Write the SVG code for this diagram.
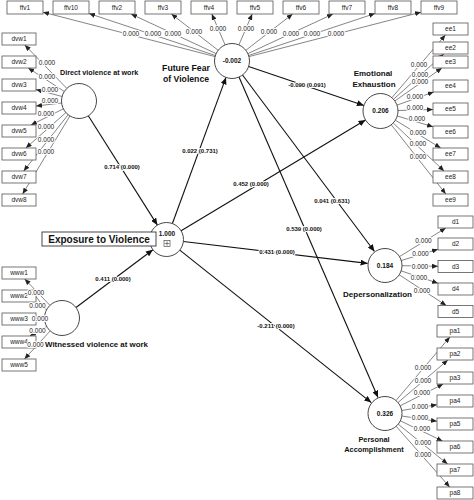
<svg xmlns="http://www.w3.org/2000/svg" width="474" height="500" viewBox="0 0 474 500">
<style>
text{font-family:"Liberation Sans",Arial,sans-serif}
.bg{fill:#fff}
.bx{fill:#fff;stroke:#555;stroke-width:0.8}
.cr{fill:#fff;stroke:#333;stroke-width:0.9}
.ld{stroke:#333;stroke-width:0.6;fill:none;marker-end:url(#ah)}
.pth{stroke:#111;stroke-width:1.1;fill:none;marker-end:url(#ahp)}
.bt{font-size:6.5px;text-anchor:middle;fill:#222}
.ll{font-size:6.5px;text-anchor:middle;fill:#222;paint-order:stroke;stroke:#fff;stroke-width:2.2px;stroke-linejoin:round}
.pl{font-size:6px;font-weight:bold;text-anchor:middle;fill:#111;paint-order:stroke;stroke:#fff;stroke-width:2.2px;stroke-linejoin:round}
.cv{font-size:6.5px;font-weight:bold;text-anchor:middle;fill:#111}
.cn{font-weight:bold;fill:#111}
</style>
<defs>
<marker id="ah" viewBox="0 0 6 5" refX="6" refY="2.5" markerWidth="6" markerHeight="5" markerUnits="userSpaceOnUse" orient="auto"><path d="M0,0L6,2.5L0,5z" fill="#222"/></marker>
<marker id="ahp" viewBox="0 0 7 6" refX="7" refY="3" markerWidth="7" markerHeight="6" markerUnits="userSpaceOnUse" orient="auto"><path d="M0,0L7,3L0,6z" fill="#111"/></marker>
</defs>
<rect class="bg" x="0" y="0" width="474" height="500"/>

<g id="connectors">
<!-- FFV loadings -->
<line class="ld" x1="215.1" y1="56.6" x2="43" y2="12.2"/>
<line class="ld" x1="215.4" y1="55.5" x2="89" y2="13.5"/>
<line class="ld" x1="216.1" y1="53.6" x2="131" y2="14"/>
<line class="ld" x1="218.2" y1="50.3" x2="171.4" y2="14"/>
<line class="ld" x1="225.1" y1="44.9" x2="211.8" y2="14"/>
<line class="ld" x1="238.9" y1="44.9" x2="252.2" y2="14"/>
<line class="ld" x1="245.8" y1="50.3" x2="292.6" y2="14"/>
<line class="ld" x1="247.9" y1="53.6" x2="333" y2="14"/>
<line class="ld" x1="248.6" y1="55.5" x2="375" y2="13.5"/>
<line class="ld" x1="248.9" y1="56.6" x2="421" y2="12.2"/>
<!-- Direct violence loadings -->
<line class="ld" x1="66.8" y1="88.4" x2="24.8" y2="45"/>
<line class="ld" x1="64.3" y1="91.5" x2="28.2" y2="68"/>
<line class="ld" x1="62.1" y1="96.5" x2="36" y2="89.5"/>
<line class="ld" x1="61.6" y1="103" x2="36" y2="106"/>
<line class="ld" x1="63.4" y1="108.8" x2="31" y2="125"/>
<line class="ld" x1="65.9" y1="112.6" x2="25.8" y2="148"/>
<line class="ld" x1="68.2" y1="114.7" x2="23.7" y2="171"/>
<line class="ld" x1="69.9" y1="116" x2="22.6" y2="194"/>
<!-- Witnessed violence loadings -->
<line class="ld" x1="49.9" y1="305.3" x2="24.7" y2="279"/>
<line class="ld" x1="46.4" y1="310" x2="30.7" y2="290"/>
<line class="ld" x1="44.5" y1="318.4" x2="36" y2="318.6"/>
<line class="ld" x1="46.7" y1="326.5" x2="29.8" y2="336"/>
<line class="ld" x1="50.2" y1="330.9" x2="24.5" y2="359"/>
<!-- EE loadings -->
<line class="ld" x1="391.9" y1="97.7" x2="445.4" y2="35"/>
<line class="ld" x1="393.5" y1="99.3" x2="443.8" y2="54"/>
<line class="ld" x1="394.8" y1="101" x2="441.9" y2="68"/>
<line class="ld" x1="397" y1="105.1" x2="433.7" y2="92"/>
<line class="ld" x1="398" y1="110.5" x2="433" y2="109.5"/>
<line class="ld" x1="397.3" y1="116" x2="433" y2="126.8"/>
<line class="ld" x1="395.4" y1="120.2" x2="440.7" y2="148"/>
<line class="ld" x1="393.2" y1="123" x2="444.1" y2="171"/>
<line class="ld" x1="391.2" y1="124.7" x2="445.8" y2="194"/>
<!-- DP loadings -->
<line class="ld" x1="399.5" y1="256.6" x2="445.8" y2="228"/>
<line class="ld" x1="401.3" y1="260.5" x2="438" y2="249.3"/>
<line class="ld" x1="402" y1="265.7" x2="438" y2="266.3"/>
<line class="ld" x1="401.1" y1="270.9" x2="438" y2="283.2"/>
<line class="ld" x1="399.2" y1="274.8" x2="446.3" y2="305.5"/>
<!-- PA loadings -->
<line class="ld" x1="396" y1="400.5" x2="449.9" y2="337"/>
<line class="ld" x1="398" y1="402.5" x2="447.9" y2="360"/>
<line class="ld" x1="400.2" y1="405.8" x2="443.2" y2="384"/>
<line class="ld" x1="401.7" y1="410.5" x2="437" y2="404.7"/>
<line class="ld" x1="401.8" y1="416" x2="437" y2="421.3"/>
<line class="ld" x1="400.3" y1="420.8" x2="442.5" y2="441"/>
<line class="ld" x1="398.2" y1="424.2" x2="447.6" y2="464"/>
<line class="ld" x1="396.2" y1="426.3" x2="449.7" y2="487"/>
<!-- structural paths -->
<line class="pth" x1="88.3" y1="115.8" x2="157.4" y2="225.1"/>
<line class="pth" x1="76" y1="307.5" x2="152.9" y2="249.7"/>
<line class="pth" x1="172.4" y1="223.5" x2="226" y2="77.4"/>
<line class="pth" x1="181.1" y1="230.7" x2="365.5" y2="120"/>
<line class="pth" x1="183.4" y1="241.5" x2="367.6" y2="263.4"/>
<line class="pth" x1="179.8" y1="250.1" x2="371.3" y2="402.6"/>
<line class="pth" x1="248.6" y1="66.6" x2="363.9" y2="105.4"/>
<line class="pth" x1="242.5" y1="75" x2="374.5" y2="251.5"/>
<line class="pth" x1="239" y1="77" x2="378" y2="397.5"/>
</g>

<g id="ffv1"><rect class="bx" x="7" y="1" width="36" height="13"/><text class="bt" x="25" y="10">ffv1</text></g>
<g id="ffv10"><rect class="bx" x="53" y="1" width="36" height="13"/><text class="bt" x="71" y="10">ffv10</text></g>
<g id="ffv2"><rect class="bx" x="99" y="1" width="36" height="13"/><text class="bt" x="117" y="10">ffv2</text></g>
<g id="ffv3"><rect class="bx" x="145" y="1" width="36" height="13"/><text class="bt" x="163" y="10">ffv3</text></g>
<g id="ffv4"><rect class="bx" x="191" y="1" width="36" height="13"/><text class="bt" x="209" y="10">ffv4</text></g>
<g id="ffv5"><rect class="bx" x="237" y="1" width="36" height="13"/><text class="bt" x="255" y="10">ffv5</text></g>
<g id="ffv6"><rect class="bx" x="283" y="1" width="36" height="13"/><text class="bt" x="301" y="10">ffv6</text></g>
<g id="ffv7"><rect class="bx" x="329" y="1" width="36" height="13"/><text class="bt" x="347" y="10">ffv7</text></g>
<g id="ffv8"><rect class="bx" x="375" y="1" width="36" height="13"/><text class="bt" x="393" y="10">ffv8</text></g>
<g id="ffv9"><rect class="bx" x="421" y="1" width="36" height="13"/><text class="bt" x="439" y="10">ffv9</text></g>

<g id="dvw1"><rect class="bx" x="2" y="33" width="34" height="12"/><text class="bt" x="19" y="41.3">dvw1</text></g>
<g id="dvw2"><rect class="bx" x="2" y="56" width="34" height="12"/><text class="bt" x="19" y="64.3">dvw2</text></g>
<g id="dvw3"><rect class="bx" x="2" y="79" width="34" height="12"/><text class="bt" x="19" y="87.3">dvw3</text></g>
<g id="dvw4"><rect class="bx" x="2" y="102" width="34" height="12"/><text class="bt" x="19" y="110.3">dvw4</text></g>
<g id="dvw5"><rect class="bx" x="2" y="125" width="34" height="12"/><text class="bt" x="19" y="133.3">dvw5</text></g>
<g id="dvw6"><rect class="bx" x="2" y="148" width="34" height="12"/><text class="bt" x="19" y="156.3">dvw6</text></g>
<g id="dvw7"><rect class="bx" x="2" y="171" width="34" height="12"/><text class="bt" x="19" y="179.3">dvw7</text></g>
<g id="dvw8"><rect class="bx" x="2" y="194" width="34" height="12"/><text class="bt" x="19" y="202.3">dvw8</text></g>

<g id="www1"><rect class="bx" x="2" y="267" width="34" height="12"/><text class="bt" x="19" y="275.3">www1</text></g>
<g id="www2"><rect class="bx" x="2" y="290" width="34" height="12"/><text class="bt" x="19" y="298.3">www2</text></g>
<g id="www3"><rect class="bx" x="2" y="313" width="34" height="12"/><text class="bt" x="19" y="321.3">www3</text></g>
<g id="www4"><rect class="bx" x="2" y="336" width="34" height="12"/><text class="bt" x="19" y="344.3">www4</text></g>
<g id="www5"><rect class="bx" x="2" y="359" width="34" height="12"/><text class="bt" x="19" y="367.3">www5</text></g>

<g id="ee1"><rect class="bx" x="433" y="23" width="35" height="12"/><text class="bt" x="450.5" y="31.3">ee1</text></g>
<g id="ee2"><rect class="bx" x="433" y="42" width="35" height="12"/><text class="bt" x="450.5" y="50.3">ee2</text></g>
<g id="ee3"><rect class="bx" x="433" y="56" width="35" height="12"/><text class="bt" x="450.5" y="64.3">ee3</text></g>
<g id="ee4"><rect class="bx" x="433" y="80" width="35" height="12"/><text class="bt" x="450.5" y="88.3">ee4</text></g>
<g id="ee5"><rect class="bx" x="433" y="103" width="35" height="12"/><text class="bt" x="450.5" y="111.3">ee5</text></g>
<g id="ee6"><rect class="bx" x="433" y="126" width="35" height="12"/><text class="bt" x="450.5" y="134.3">ee6</text></g>
<g id="ee7"><rect class="bx" x="433" y="148" width="35" height="12"/><text class="bt" x="450.5" y="156.3">ee7</text></g>
<g id="ee8"><rect class="bx" x="433" y="171" width="35" height="12"/><text class="bt" x="450.5" y="179.3">ee8</text></g>
<g id="ee9"><rect class="bx" x="433" y="194" width="35" height="12"/><text class="bt" x="450.5" y="202.3">ee9</text></g>

<g id="d1"><rect class="bx" x="438" y="216" width="35" height="12"/><text class="bt" x="455.5" y="224.3">d1</text></g>
<g id="d2"><rect class="bx" x="438" y="238" width="35" height="12"/><text class="bt" x="455.5" y="246.3">d2</text></g>
<g id="d3"><rect class="bx" x="438" y="260.5" width="35" height="12"/><text class="bt" x="455.5" y="268.8">d3</text></g>
<g id="d4"><rect class="bx" x="438" y="283" width="35" height="12"/><text class="bt" x="455.5" y="291.3">d4</text></g>
<g id="d5"><rect class="bx" x="438" y="305.5" width="35" height="12"/><text class="bt" x="455.5" y="313.8">d5</text></g>

<g id="pa1"><rect class="bx" x="437" y="325" width="36" height="12"/><text class="bt" x="455" y="333.3">pa1</text></g>
<g id="pa2"><rect class="bx" x="437" y="348" width="36" height="12"/><text class="bt" x="455" y="356.3">pa2</text></g>
<g id="pa3"><rect class="bx" x="437" y="372" width="36" height="12"/><text class="bt" x="455" y="380.3">pa3</text></g>
<g id="pa4"><rect class="bx" x="437" y="395" width="36" height="12"/><text class="bt" x="455" y="403.3">pa4</text></g>
<g id="pa5"><rect class="bx" x="437" y="418" width="36" height="12"/><text class="bt" x="455" y="426.3">pa5</text></g>
<g id="pa6"><rect class="bx" x="437" y="441" width="36" height="12"/><text class="bt" x="455" y="449.3">pa6</text></g>
<g id="pa7"><rect class="bx" x="437" y="464" width="36" height="12"/><text class="bt" x="455" y="472.3">pa7</text></g>
<g id="pa8"><rect class="bx" x="437" y="487" width="36" height="12"/><text class="bt" x="455" y="495.3">pa8</text></g>

<g id="future-fear">
<circle class="cr" cx="232" cy="61" r="17.5"/>
<text class="cv" x="232" y="63.3">-0.002</text>
<text class="cn" x="186" y="71" font-size="8.7" text-anchor="middle">Future Fear</text>
<text class="cn" x="186" y="82" font-size="8.7" text-anchor="middle">of Violence</text>
</g>
<g id="direct-violence">
<circle class="cr" cx="79" cy="101" r="17.5"/>
<text class="cn" x="60" y="75" font-size="7.2">Direct violence at work</text>
</g>
<g id="witnessed-violence">
<circle class="cr" cx="62" cy="318" r="17.5"/>
<text class="cn" x="45" y="347" font-size="7.9">Witnessed violence at work</text>
</g>
<g id="exposure">
<circle class="cr" cx="166.5" cy="239.5" r="17"/>
<text class="cv" x="167" y="235.5">1.000</text>
<rect x="164" y="240.5" width="6" height="6" fill="#fff" stroke="#333" stroke-width="0.6"/>
<path d="M167,241.3V245.7M164.8,243.5H169.2" stroke="#333" stroke-width="0.6"/>
<rect x="42" y="232" width="114" height="14" fill="#fff" stroke="#333" stroke-width="0.9"/>
<text class="cn" x="99" y="243" font-size="10" text-anchor="middle">Exposure to Violence</text>
</g>
<g id="emotional-exhaustion">
<circle class="cr" cx="380.5" cy="111" r="17.5"/>
<text class="cv" x="380.5" y="113.3">0.206</text>
<text class="cn" x="373" y="76" font-size="8" text-anchor="middle">Emotional</text>
<text class="cn" x="374" y="87" font-size="8" text-anchor="middle">Exhaustion</text>
</g>
<g id="depersonalization">
<circle class="cr" cx="385" cy="265.5" r="17"/>
<text class="cv" x="385" y="267.8">0.184</text>
<text class="cn" x="377.5" y="297" font-size="8" text-anchor="middle">Depersonalization</text>
</g>
<g id="personal-accomplishment">
<circle class="cr" cx="385" cy="413.5" r="17"/>
<text class="cv" x="385" y="415.8">0.326</text>
<text class="cn" x="374" y="442" font-size="7.4" text-anchor="middle">Personal</text>
<text class="cn" x="374" y="452" font-size="7.4" text-anchor="middle">Accomplishment</text>
</g>

<g id="connector-labels">
<text class="ll" x="131" y="36.3">0.000</text>
<text class="ll" x="153" y="36.3">0.000</text>
<text class="ll" x="173" y="36.3">0.000</text>
<text class="ll" x="194" y="34.3">0.000</text>
<text class="ll" x="218" y="31.3">0.000</text>
<text class="ll" x="246" y="31.3">0.000</text>
<text class="ll" x="269" y="34.3">0.000</text>
<text class="ll" x="291" y="36.3">0.000</text>
<text class="ll" x="312" y="36.3">0.000</text>
<text class="ll" x="336" y="36.3">0.000</text>

<text class="ll" x="47" y="65.3">0.000</text>
<text class="ll" x="47" y="79.3">0.000</text>
<text class="ll" x="50" y="92.3">0.000</text>
<text class="ll" x="50" y="103.3">0.000</text>
<text class="ll" x="46" y="116.3">0.000</text>
<text class="ll" x="46" y="129.3">0.000</text>
<text class="ll" x="46" y="142.3">0.000</text>
<text class="ll" x="46" y="154.3">0.000</text>

<text class="ll" x="36" y="295.3">0.000</text>
<text class="ll" x="37.5" y="308.3">0.000</text>
<text class="ll" x="40" y="321.3">0.000</text>
<text class="ll" x="37.5" y="333.3">0.000</text>
<text class="ll" x="35.5" y="347.3">0.000</text>

<text class="ll" x="419" y="67.3">0.000</text>
<text class="ll" x="420" y="77.3">0.000</text>
<text class="ll" x="420" y="84.3">0.000</text>
<text class="ll" x="415" y="99.3">0.000</text>
<text class="ll" x="415" y="110.3">0.000</text>
<text class="ll" x="417" y="121.3">0.000</text>
<text class="ll" x="418" y="135.3">0.000</text>
<text class="ll" x="418" y="146.3">0.000</text>
<text class="ll" x="418" y="159.3">0.000</text>

<text class="ll" x="423.5" y="243.3">0.000</text>
<text class="ll" x="420.5" y="256.3">0.000</text>
<text class="ll" x="420" y="269.3">0.000</text>
<text class="ll" x="419" y="280.3">0.000</text>
<text class="ll" x="422" y="293.3">0.000</text>

<text class="ll" x="423" y="370.3">0.000</text>
<text class="ll" x="423" y="383.3">0.000</text>
<text class="ll" x="422" y="395.3">0.000</text>
<text class="ll" x="420" y="409.3">0.000</text>
<text class="ll" x="420" y="420.3">0.000</text>
<text class="ll" x="422" y="431.3">0.000</text>
<text class="ll" x="423" y="445.3">0.000</text>
<text class="ll" x="423" y="457.3">0.000</text>

<text class="pl" x="122" y="169">0.714 (0.000)</text>
<text class="pl" x="113" y="281">0.411 (0.000)</text>
<text class="pl" x="200" y="153">0.022 (0.731)</text>
<text class="pl" x="251" y="186">0.452 (0.000)</text>
<text class="pl" x="277" y="254">0.431 (0.000)</text>
<text class="pl" x="276" y="328">-0.211 (0.000)</text>
<text class="pl" x="307" y="87">-0.090 (0.091)</text>
<text class="pl" x="332" y="203">0.041 (0.631)</text>
<text class="pl" x="304" y="231">0.539 (0.000)</text>
</g>
</svg>
